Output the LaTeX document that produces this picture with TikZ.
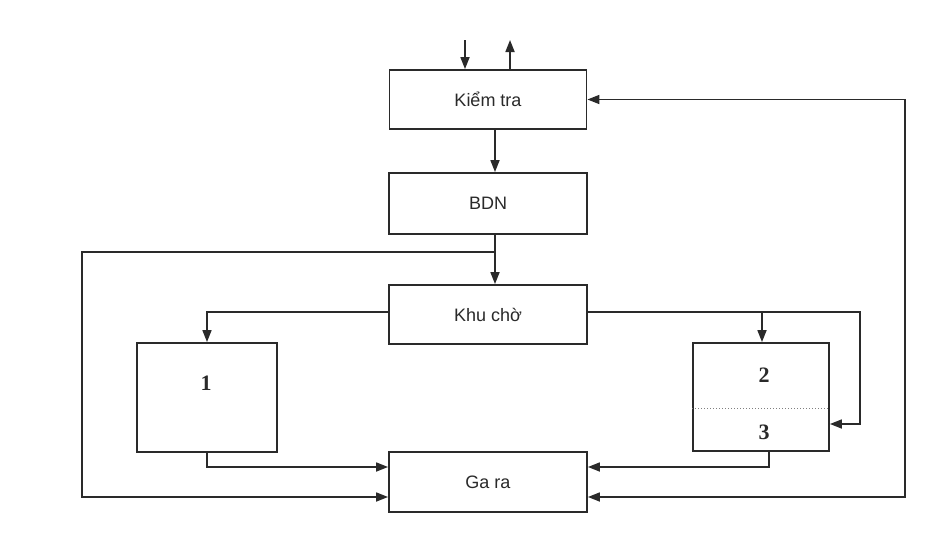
\documentclass[tikz,border=0pt]{standalone}
\usepackage{fontspec}
\setmainfont{Liberation Sans}
\newfontfamily\numfont{Liberation Serif}
\usetikzlibrary{arrows.meta}
\definecolor{ink}{HTML}{2A2A2A}
\begin{document}
\begin{tikzpicture}[x=1pt,y=-1pt,
  box/.style={draw=ink,line width=1.8pt,rectangle,font=\fontsize{18}{20}\selectfont,text=ink},
  num/.style={font=\numfont\bfseries\fontsize{22}{24}\selectfont,text=ink,inner sep=0pt},
  conn/.style={draw=ink,line width=1.7pt},
  arr/.style={conn,-{Triangle[length=12pt,width=9pt]}},
  arrboth/.style={conn,{Triangle[length=12pt,width=9pt]}-{Triangle[length=12pt,width=9pt]}}]
\useasboundingbox[fill=white] (0,0) rectangle (951,549);
\node[box,minimum width=197pt,minimum height=59pt] (kt) at (488,99.5) {Kiểm tra};
\node[box,minimum width=198pt,minimum height=61pt] (bdn) at (488,203.5) {BDN};
\node[box,minimum width=198pt,minimum height=59pt] (khu) at (488,314.5) {Khu chờ};
\node[box,minimum width=198pt,minimum height=60pt] (ga) at (488,482) {Ga ra};
\node[box,minimum width=140pt,minimum height=109pt] (b1) at (207,397.5) {};
\node[box,minimum width=136pt,minimum height=108pt] (b23) at (761,397) {};
\node[num] (n1) at (206,383) {1};
\node[num] (n2) at (764,375) {2};
\node[num] (n3) at (764,432) {3};
\draw[dotted,draw=gray,line width=1pt] ([yshift=-11pt]b23.west) -- ([yshift=-11pt]b23.east);
% top arrows
\coordinate (tin) at (465,40);
\coordinate (tout) at (510,40);
\draw[arr] (tin) -- (kt.north -| tin);
\draw[arr] (kt.north -| tout) -- (tout);
% main chain
\draw[arr] ([xshift=7pt]kt.south) -- ([xshift=7pt]bdn.north);
\draw[arr] ([xshift=7pt]bdn.south) -- ([xshift=7pt]khu.north);
% left loop
\coordinate (j1) at (495,252);
\coordinate (L) at (82,252);
\draw[arr] (j1) -- (L) |- ([yshift=-15pt]ga.west);
% khu -> 1
\draw[arr] ([yshift=2.5pt]khu.west) -| (b1.north);
\draw[arr] (b1.south) |- ([yshift=15pt]ga.west);
% khu -> 2,3
\coordinate (R) at (860,312);
\coordinate (j2) at (762,312);
\draw[arr] ([yshift=2.5pt]khu.east) -- (R) |- ([yshift=-27pt]b23.east);
\draw[arr] (j2) -- (j2 |- b23.north);
\draw[arr] ([xshift=8pt]b23.south) |- ([yshift=15pt]ga.east);
% right loop
\coordinate (RR) at (905,300);
\draw[arrboth] ([yshift=-15pt]ga.east) -| (RR) |- (kt.east);
\end{tikzpicture}
\end{document}
